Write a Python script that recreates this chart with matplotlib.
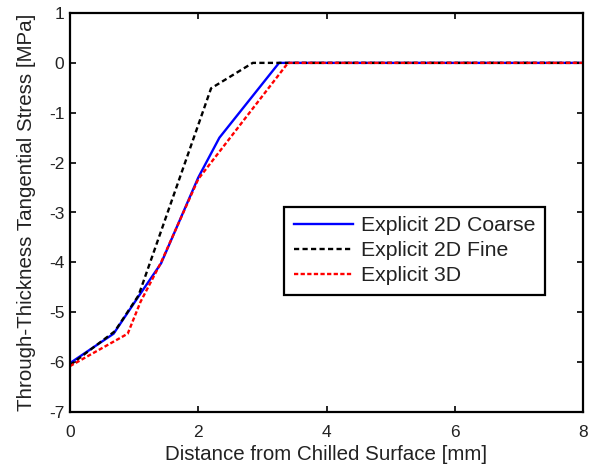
import numpy as np
import matplotlib.pyplot as plt

plt.rcParams['font.family'] = ['Liberation Sans', 'DejaVu Sans']
plt.rcParams['axes.unicode_minus'] = False

# distance [mm] / stress [MPa]
x_coarse = [0.0, 0.68, 1.07, 1.42, 2.0, 2.33, 3.26, 8.0]
y_coarse = [-6.02, -5.43, -4.68, -4.02, -2.3, -1.5, 0.0, 0.0]

x_fine = [0.0, 0.7, 1.07, 2.2, 2.85, 8.0]
y_fine = [-6.06, -5.38, -4.66, -0.51, 0.0, 0.0]

x_3d = [0.0, 0.9, 1.1, 1.42, 2.0, 3.4, 8.0]
y_3d = [-6.08, -5.43, -4.79, -4.0, -2.33, 0.0, 0.0]

fig = plt.figure(figsize=(5.94, 4.65), dpi=100)
ax = fig.add_axes([70 / 594, 1 - 412 / 465, 513 / 594, 399 / 465])

ax.plot(x_coarse, y_coarse, color="#0000ff", lw=1.7, label="Explicit 2D Coarse")
ax.plot(x_fine, y_fine, color="black", lw=1.7, dashes=(2.2, 1.4), label="Explicit 2D Fine")
ax.plot(x_3d, y_3d, color="#ff0000", lw=1.7, dashes=(1.8, 1.0), label="Explicit 3D")

ax.set_xlim(0, 8)
ax.set_ylim(-7, 1)
ax.set_xticks(np.arange(0, 9, 2))
ax.set_yticks(np.arange(-7, 2, 1))
ax.tick_params(direction="in", top=True, right=True, labelsize=12.5, length=4,
               width=1.2, labelcolor="#222222")
ax.tick_params(axis="x", pad=9)
ax.tick_params(axis="y", pad=4)
for s in ax.spines.values():
    s.set_linewidth(1.6)

ax.set_xlabel("Distance from Chilled Surface [mm]", fontsize=14.8, labelpad=4,
              color="#222222")
ax.set_ylabel("Through-Thickness Tangential Stress [MPa]", fontsize=14.8, labelpad=9,
              color="#222222")

leg = ax.legend(loc="upper left", bbox_to_anchor=(0.418, 0.514), borderaxespad=0,
                fontsize=15.3, frameon=True, fancybox=False, edgecolor="black",
                borderpad=0.45, handlelength=2.8, handletextpad=0.35,
                labelspacing=0.28, framealpha=1)
leg.get_frame().set_linewidth(1.6)
for t in leg.get_texts():
    t.set_color("#222222")

plt.savefig("out.png", dpi=100)
